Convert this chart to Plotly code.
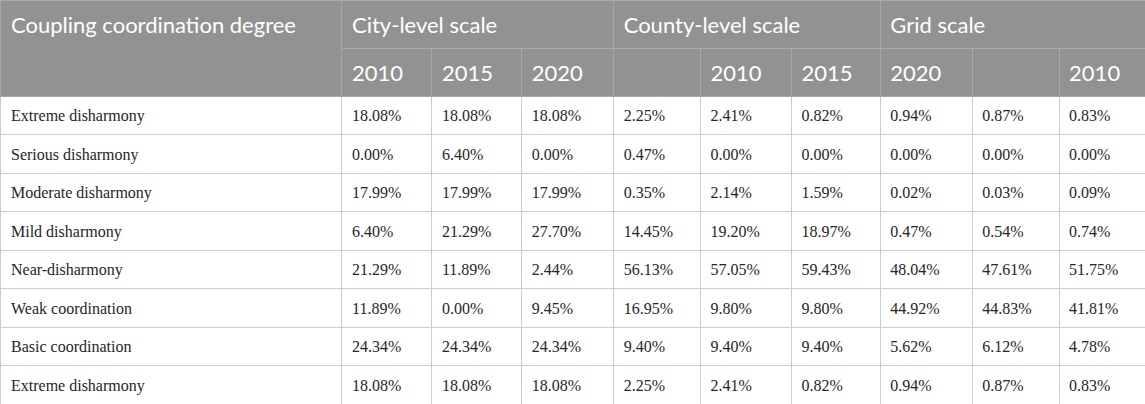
import plotly.graph_objects as go

categories = ["Extreme disharmony", "Serious disharmony", "Moderate disharmony",
              "Mild disharmony", "Near-disharmony", "Weak coordination",
              "Basic coordination", "Extreme disharmony"]

first_header = "Coupling coordination degree"
groups = ["City-level scale", "County-level scale", "Grid scale"]
years = ["2010", "2015", "2020", "", "2010", "2015", "2020", "", "2010"]

city_2010 = [18.08, 0.00, 17.99, 6.40, 21.29, 11.89, 24.34, 18.08]
city_2015 = [18.08, 6.40, 17.99, 21.29, 11.89, 0.00, 24.34, 18.08]
city_2020 = [18.08, 0.00, 17.99, 27.70, 2.44, 9.45, 24.34, 18.08]
county_a = [2.25, 0.47, 0.35, 14.45, 56.13, 16.95, 9.40, 2.25]
county_2010 = [2.41, 0.00, 2.14, 19.20, 57.05, 9.80, 9.40, 2.41]
county_2015 = [0.82, 0.00, 1.59, 18.97, 59.43, 9.80, 9.40, 0.82]
grid_2020 = [0.94, 0.00, 0.02, 0.47, 48.04, 44.92, 5.62, 0.94]
grid_b = [0.87, 0.00, 0.03, 0.54, 47.61, 44.83, 6.12, 0.87]
grid_2010 = [0.83, 0.00, 0.09, 0.74, 51.75, 41.81, 4.78, 0.83]

columns = [city_2010, city_2015, city_2020, county_a, county_2010, county_2015,
           grid_2020, grid_b, grid_2010]

W, H = 1145, 404
first_w = 341
group_w = [272, 267, 265]
col_w = [90, 90, 92, 87, 91, 89, 92, 87, 86]
head_h = 48
row_h = 38.5
pad_x = 3        # extra left padding on top of plotly's own
hdr_dy = 8       # plotly tables have no valign, so text tables sit a bit lower
body_dy = 5

hdr_fill = "#929292"
hdr_line = "#a8a8a8"
body_line = "#cdcdcd"
clear = "rgba(0,0,0,0)"
hdr_font = dict(family="Lato, Noto Sans, sans-serif", size=22, color="white")
body_font = dict(family="Liberation Serif, DejaVu Serif, serif", size=16,
                 color="#262626")

x0 = first_w / W
xt = (first_w + pad_x) / W
n_rows = len(categories)
blank = lambda n: [[""] * n_rows for _ in range(n)]

fig = go.Figure()

# ---- grid (fills and borders) ----
fig.add_trace(go.Table(
    domain=dict(x=[0, x0], y=[0, 1]),
    header=dict(values=[""], height=2 * head_h, fill_color=hdr_fill,
                line_color=hdr_line),
    cells=dict(values=blank(1), height=row_h, fill_color="white",
               line_color=body_line),
))
fig.add_trace(go.Table(
    domain=dict(x=[x0, 1], y=[(H - head_h) / H, 1]),
    columnwidth=group_w,
    header=dict(values=[""] * 3, height=head_h, fill_color=hdr_fill,
                line_color=hdr_line),
    cells=dict(values=[[], [], []]),
))
fig.add_trace(go.Table(
    domain=dict(x=[x0, 1], y=[0, (H - head_h) / H]),
    columnwidth=col_w,
    header=dict(values=[""] * 9, height=head_h, fill_color=hdr_fill,
                line_color=hdr_line),
    cells=dict(values=blank(9), height=row_h, fill_color="white",
               line_color=body_line),
))

# ---- text layers ----
fig.add_trace(go.Table(
    domain=dict(x=[pad_x / W, x0], y=[0, (H - hdr_dy) / H]),
    header=dict(values=[first_header], height=2 * head_h - hdr_dy + body_dy,
                fill_color=clear, line_color=clear, align="left", font=hdr_font),
    cells=dict(values=[categories], height=row_h, fill_color=clear,
               line_color=clear, align="left", font=body_font),
))
fig.add_trace(go.Table(
    domain=dict(x=[xt, 1], y=[(H - head_h) / H, (H - hdr_dy) / H]),
    columnwidth=group_w[:-1] + [group_w[-1] - pad_x],
    header=dict(values=groups, height=head_h - hdr_dy, fill_color=clear,
                line_color=clear, align="left", font=hdr_font),
    cells=dict(values=[[], [], []]),
))
fig.add_trace(go.Table(
    domain=dict(x=[xt, 1], y=[0, (H - head_h - hdr_dy) / H]),
    columnwidth=col_w[:-1] + [col_w[-1] - pad_x],
    header=dict(values=years, height=head_h - hdr_dy + body_dy, fill_color=clear,
                line_color=clear, align="left", font=hdr_font),
    cells=dict(values=[["%.2f%%" % v for v in col] for col in columns],
               height=row_h, fill_color=clear, line_color=clear,
               align="left", font=body_font),
))

fig.update_layout(width=W, height=H, margin=dict(l=0, r=0, t=0, b=0),
                  paper_bgcolor="white")
fig.write_html("out.html", config={"staticPlot": True},
               post_script="document.body.style.margin='0';")
